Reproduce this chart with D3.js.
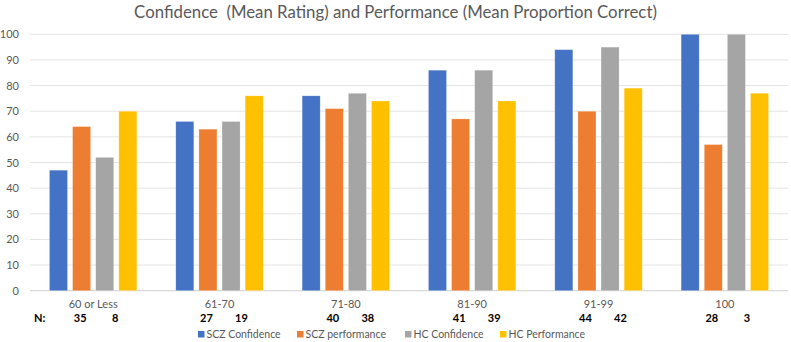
<!DOCTYPE html>
<html>
<head>
<meta charset="utf-8">
<script src="https://cdn.jsdelivr.net/npm/d3@7"></script>
<style>
  body { margin: 0; background: #fff; }
  svg { font-family: Lato, "Open Sans", sans-serif; }
</style>
</head>
<body>
<div id="container"></div>
<script>
/* DATA */
const categories = ["60 or Less", "61-70", "71-80", "81-90", "91-99", "100"];
const series = ["SCZ Confidence", "SCZ performance", "HC Confidence", "HC Performance"];
const sczConfidence = [47, 66, 76, 86, 94, 100];
const sczPerformance = [64, 63, 71, 67, 70, 57];
const hcConfidence = [52, 66, 77, 86, 95, 100];
const hcPerformance = [70, 76, 74, 74, 79, 77];
const nScz = [35, 27, 40, 41, 44, 28];
const nHc = [8, 19, 38, 39, 42, 3];
const yTicks = [0, 10, 20, 30, 40, 50, 60, 70, 80, 90, 100];
const colors = ["#4472C4", "#ED7D31", "#A5A5A5", "#FFC000"];

const values = [sczConfidence, sczPerformance, hcConfidence, hcPerformance];
const data = categories.map((c, i) => ({
  cat: c,
  vals: series.map((s, j) => ({ key: s, value: values[j][i] }))
}));

/* CONSTANTS */
const width = 791, height = 342;
const margin = { top: 34.3, left: 30, right: 3, bottom: 51.3 };

const svg = d3.select("#container")
  .append("svg")
  .attr("width", width)
  .attr("height", height);

/* SCALES */
const x0 = d3.scaleBand()
  .domain(categories)
  .range([margin.left, width - margin.right]);

const groupW = 87.4;
const x1 = d3.scaleBand()
  .domain(series)
  .range([(x0.bandwidth() - groupW) / 2, (x0.bandwidth() + groupW) / 2])
  .paddingInner(0.22);

const yScale = d3.scaleLinear()
  .domain([0, 100])
  .range([height - margin.bottom, margin.top]);

const color = d3.scaleOrdinal().domain(series).range(colors);

// title
svg.append("text")
  .attr("x", width / 2)
  .attr("y", 18)
  .attr("text-anchor", "middle")
  .attr("xml:space", "preserve")
  .style("font-size", "16.8px")
  .style("fill", "#595959")
  .text("Confidence  (Mean Rating) and Performance (Mean Proportion Correct)");

// gridlines
svg.append("g")
  .selectAll("line")
  .data(yTicks)
  .join("line")
  .attr("x1", margin.left)
  .attr("x2", width - margin.right)
  .attr("y1", d => yScale(d))
  .attr("y2", d => yScale(d))
  .style("stroke", d => d === 0 ? "#d0d0d0" : "#e3e3e3")
  .style("stroke-width", 1);

// y axis labels
const yAxis = d3.axisLeft(yScale).tickValues(yTicks).tickSize(0).tickPadding(0);
svg.append("g")
  .attr("transform", `translate(${19},0)`)
  .call(yAxis)
  .call(g => g.select(".domain").remove())
  .call(g => g.selectAll("text")
    .style("font-family", "Lato, sans-serif")
    .style("font-size", "11px")
    .style("fill", "#595959"));

// bars
svg.append("g")
  .selectAll("g")
  .data(data)
  .join("g")
  .attr("transform", d => `translate(${x0(d.cat)},0)`)
  .selectAll("rect")
  .data(d => d.vals)
  .join("rect")
  .attr("x", d => x1(d.key))
  .attr("width", x1.bandwidth())
  .attr("y", d => yScale(d.value))
  .attr("height", d => yScale(0) - yScale(d.value))
  .style("fill", d => color(d.key))
  .style("stroke", "#ffffff")
  .style("stroke-opacity", 0.4)
  .style("stroke-width", 0.6);

// category labels
const xAxis = d3.axisBottom(x0).tickSize(0).tickPadding(0);
svg.append("g")
  .attr("transform", `translate(0,${300})`)
  .call(xAxis)
  .call(g => g.select(".domain").remove())
  .call(g => g.selectAll("text")
    .style("font-family", "Lato, sans-serif")
    .style("font-size", "11px")
    .style("fill", "#595959"));

// N row
const nRow = svg.append("g").style("font-size", "11px").style("font-weight", "bold").style("fill", "#000");
nRow.append("text").attr("x", 34).attr("y", 322).text("N:");
nRow.selectAll("text.nscz")
  .data(categories)
  .join("text")
  .attr("class", "nscz")
  .attr("x", d => x0(d) + x0.bandwidth() / 2 - 13)
  .attr("y", 322)
  .attr("text-anchor", "middle")
  .text((d, i) => nScz[i]);
nRow.selectAll("text.nhc")
  .data(categories)
  .join("text")
  .attr("class", "nhc")
  .attr("x", d => x0(d) + x0.bandwidth() / 2 + 22)
  .attr("y", 322)
  .attr("text-anchor", "middle")
  .text((d, i) => nHc[i]);

// legend
const legendX = [198, 297, 405, 500];
const legend = svg.append("g")
  .selectAll("g")
  .data(series)
  .join("g")
  .attr("transform", (d, i) => `translate(${legendX[i]},${331})`);
legend.append("rect")
  .attr("width", 6.5)
  .attr("height", 6.5)
  .style("fill", d => color(d));
legend.append("text")
  .attr("x", 8.5)
  .attr("y", 7)
  .style("font-size", "10.5px")
  .style("fill", "#595959")
  .text(d => d);
</script>
</body>
</html>
